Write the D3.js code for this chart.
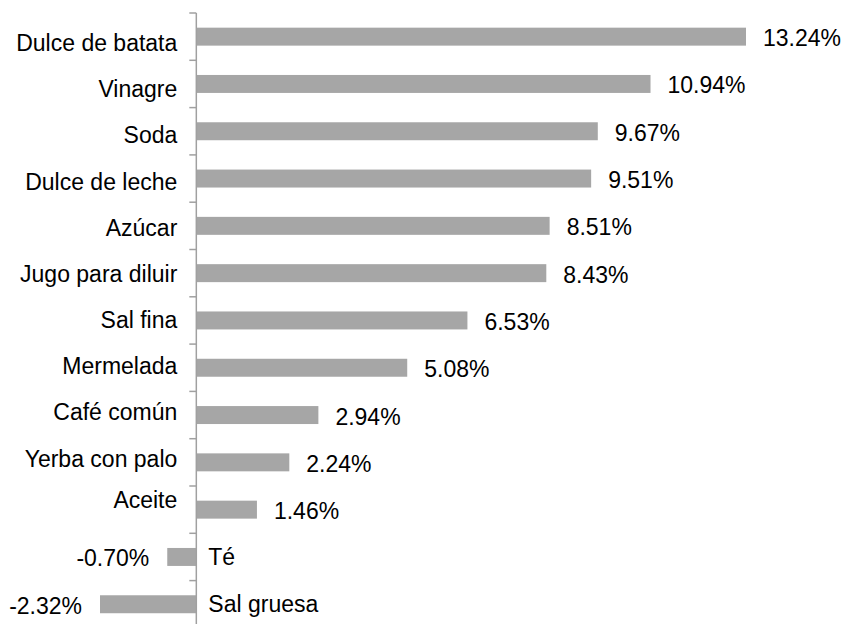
<!DOCTYPE html>
<html>
<head>
<meta charset="utf-8">
<script src="https://cdn.jsdelivr.net/npm/d3@7"></script>
<style>
  body { margin: 0; background: #fff; }
  text { font-family: "Liberation Sans", Arial, Helvetica, sans-serif; fill: #000; }
</style>
</head>
<body>
<div class="chart"></div>
<script>
const w = 847;
const h = 624;

const categories = ["Dulce de batata", "Vinagre", "Soda", "Dulce de leche", "Azúcar",
    "Jugo para diluir", "Sal fina", "Mermelada", "Café común", "Yerba con palo",
    "Aceite", "Té", "Sal gruesa"];
const values = [13.24, 10.94, 9.67, 9.51, 8.51, 8.43, 6.53, 5.08, 2.94, 2.24, 1.46, -0.70, -2.32];

// vertical nudge of the category labels (the source places them a bit irregularly)
const labelShift = [14.5, 13.4, 12.2, 11.1, 9.9, 8.8, 7.6, 6.5, 5.4, 4.2, -2, 8, 8];

const data = categories.map((c, i) => ({ name: c, value: values[i], i: i }));

const svg = d3.select(".chart")
    .append("svg")
    .attr("width", w)
    .attr("height", h)

const x = d3.scaleLinear()
    .domain([d3.min(values), d3.max(values)])
    .range([100, 746]);

const y = d3.scaleBand()
    .domain(categories)
    .range([13, 13 + 47.3 * categories.length])
    .paddingInner(0.62)
    .paddingOuter(0.31);

const step = y.step();
const x0 = x(0);

// bars
svg.selectAll("rect.bar")
    .data(data)
    .enter()
    .append("rect")
    .attr("class", "bar")
    .attr("x", d => Math.min(x(d.value), x0))
    .attr("y", d => y(d.name))
    .attr("width", d => Math.abs(x(d.value) - x0))
    .attr("height", y.bandwidth())
    .attr("fill", "#a6a6a6")

// axis line + ticks at band boundaries
const axis = svg.append("g");
axis.append("line")
    .attr("x1", x0).attr("x2", x0)
    .attr("y1", y.range()[0]).attr("y2", y.range()[1])
    .attr("stroke", "#a0a0a0")
    .attr("stroke-width", 1.5)

axis.selectAll("line.tick")
    .data(d3.range(categories.length + 1))
    .enter()
    .append("line")
    .attr("class", "tick")
    .attr("x1", x0 - 7).attr("x2", x0)
    .attr("y1", i => y.range()[0] + i * step)
    .attr("y2", i => y.range()[0] + i * step)
    .attr("stroke", "#a0a0a0")
    .attr("stroke-width", 1.5)

const center = d => y(d.name) + y.bandwidth() / 2;

// category labels
svg.selectAll("text.cat")
    .data(data)
    .enter()
    .append("text")
    .attr("class", "cat")
    .attr("x", d => d.value >= 0 ? x0 - 19 : x0 + 12)
    .attr("y", d => center(d) + labelShift[d.i])
    .attr("text-anchor", d => d.value >= 0 ? "end" : "start")
    .style("font-size", "23px")
    .text(d => d.name)

// value labels
svg.selectAll("text.val")
    .data(data)
    .enter()
    .append("text")
    .attr("class", "val")
    .attr("x", d => d.value >= 0 ? x(d.value) + 17 : x(d.value) - 18)
    .attr("y", d => center(d) + 9.5)
    .attr("text-anchor", d => d.value >= 0 ? "start" : "end")
    .style("font-size", "23px")
    .text(d => d.value.toFixed(2) + "%")
</script>
</body>
</html>
